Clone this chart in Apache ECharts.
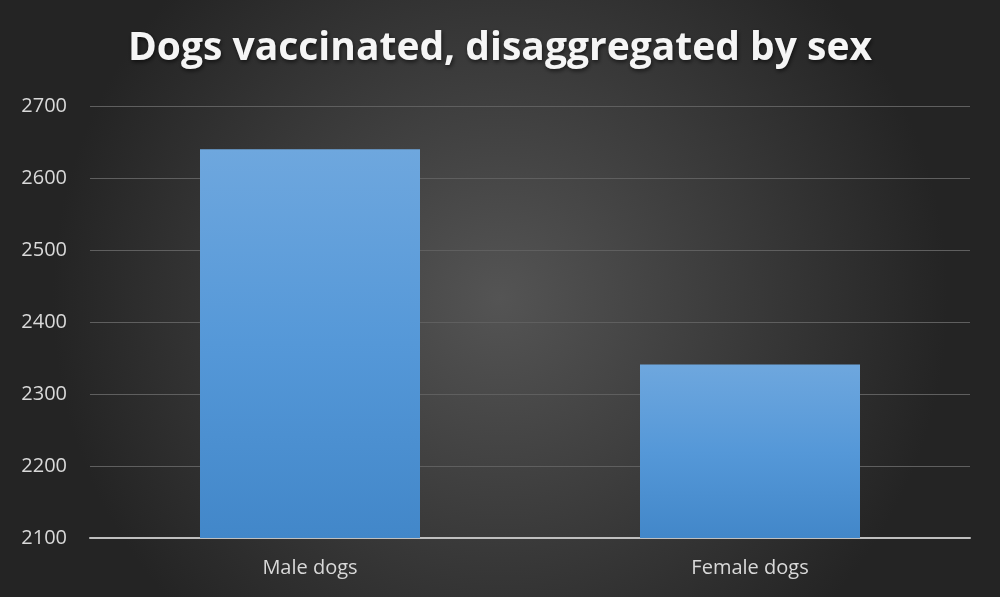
<!DOCTYPE html>
<html>
<head>
<meta charset="utf-8">
<script src="https://cdn.jsdelivr.net/npm/echarts@6/dist/echarts.min.js"></script>
<style>
html, body { margin: 0; padding: 0; background: #2b2b2b; }
#chart { width: 1000px; height: 597px; }
</style>
</head>
<body>
<div id="chart"></div>
<script>
var categories = ['Male dogs', 'Female dogs'];
var vaccinated = [2640, 2341];

var myChart = echarts.init(document.getElementById('chart'));

myChart.setOption({
	backgroundColor: {
		type: 'radial', x: 0.5, y: 0.5, r: 0.75,
		colorStops: [
			{ offset: 0, color: '#545454' },
			{ offset: 1, color: '#242424' }
		]
	},
	title: {
		text: 'Dogs vaccinated, disaggregated by sex',
		left: 'center',
		top: 24,
		textStyle: {
			color: '#f5f5f5',
			fontFamily: 'Open Sans',
			fontWeight: 'bold',
			fontSize: 39,
			textShadowColor: 'rgba(0,0,0,0.6)',
			textShadowBlur: 4,
			textShadowOffsetX: 1,
			textShadowOffsetY: 2
		}
	},
	grid: {
		left: 90,
		right: 30,
		top: 106,
		bottom: 59
	},
	xAxis: {
		type: 'category',
		data: categories,
		axisTick: { show: false },
		axisLine: { lineStyle: { color: '#bfbfbf', width: 2 } },
		axisLabel: {
			color: '#d9d9d9',
			fontFamily: 'Open Sans',
			fontSize: 20,
			margin: 20
		}
	},
	yAxis: {
		type: 'value',
		min: 2100,
		max: 2700,
		interval: 100,
		axisLine: { show: false },
		axisTick: { show: false },
		splitLine: { lineStyle: { color: '#5f5f5f', width: 1 } },
		axisLabel: {
			color: '#d9d9d9',
			fontFamily: 'Open Sans',
			fontSize: 20,
			margin: 23,
			formatter: function (v) { return String(v); }
		}
	},
	series: [{
		type: 'bar',
		data: vaccinated,
		barWidth: '50%',
		itemStyle: {
			color: {
				type: 'linear', x: 0, y: 0, x2: 0, y2: 1,
				colorStops: [
					{ offset: 0, color: '#6ea7de' },
					{ offset: 0.5, color: '#5598d8' },
					{ offset: 1, color: '#4287c9' }
				]
			},
			shadowColor: 'rgba(0,0,0,0.5)',
			shadowBlur: 8
		}
	}]
});
</script>
</body>
</html>
